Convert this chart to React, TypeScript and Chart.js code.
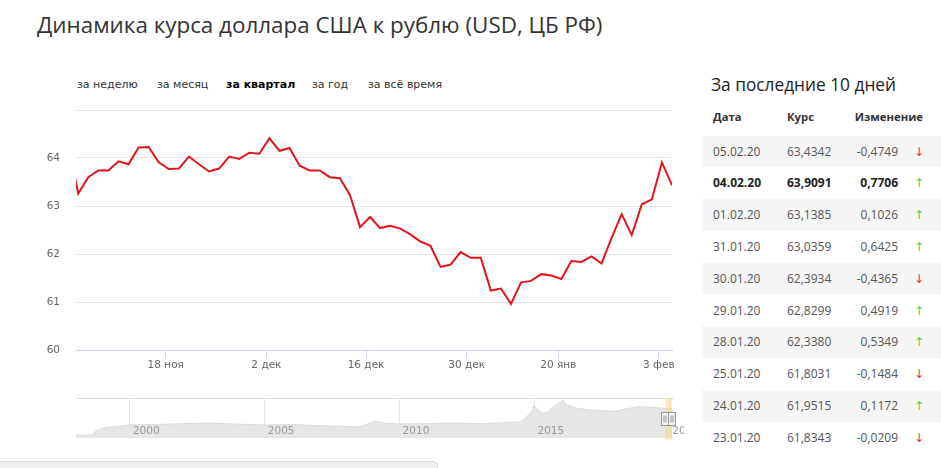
import React, { useEffect, useRef } from 'react';
import { Chart, registerables } from 'chart.js';

Chart.register(...registerables);

// ---- main chart data (USD/RUB, CBR, last quarter; index = trading day) ----
const rateValues = [
  64.3, 63.26, 63.6, 63.74, 63.74, 63.93, 63.87, 64.22, 64.23, 63.91,
  63.77, 63.78, 64.03, 63.87, 63.72, 63.78, 64.03, 63.98, 64.11, 64.09,
  64.41, 64.15, 64.21, 63.84, 63.74, 63.74, 63.6, 63.58, 63.23, 62.56,
  62.77, 62.54, 62.59, 62.53, 62.41, 62.26, 62.17, 61.73, 61.78, 62.04,
  61.92, 61.92, 61.24, 61.28, 60.96, 61.41, 61.44, 61.58, 61.55, 61.48,
  61.8552, 61.8343, 61.9515, 61.8031, 62.338, 62.8299, 62.3934, 63.0359, 63.1385, 63.9091,
  63.4342,
];
const xTickPositions = [9.7, 19.7, 29.6, 39.6, 48.7, 58.7];
const xTickLabels = ['18 ноя', '2 дек', '16 дек', '30 дек', '20 янв', '3 фев'];
const yTickValues = [60, 61, 62, 63, 64, 65];

// ---- navigator (whole history) ----
const navYears = [
  1998.0, 1998.6, 1998.75, 1999.0, 1999.5, 2000.0, 2001.0, 2002.0, 2003.0, 2004.0,
  2005.0, 2006.0, 2007.0, 2008.0, 2008.5, 2009.1, 2009.5, 2010.0, 2011.0, 2012.0,
  2013.0, 2014.0, 2014.5, 2014.9, 2014.96, 2015.05, 2015.3, 2015.5, 2015.7, 2016.05,
  2016.2, 2016.5, 2017.0, 2017.5, 2018.0, 2018.4, 2018.9, 2019.2, 2019.6, 2020.0, 2020.1,
];
const navValues = [
  6.0, 6.3, 16, 21, 24.5, 28, 28.7, 30.5, 31.8, 29.4,
  27.7, 28.8, 26.3, 24.5, 23.4, 36, 31, 30, 30.5, 32,
  30.4, 33, 34.5, 56, 68, 65, 52, 55, 66, 80,
  70, 64, 60, 58, 57, 62, 67, 66, 64, 62, 63.4,
];
const navYearTicks = [2000, 2005, 2010, 2015, 2020];
const navSelectedFrom = 2019.85;

// ---- table ----
const tableDates = ['05.02.20', '04.02.20', '01.02.20', '31.01.20', '30.01.20', '29.01.20', '28.01.20', '25.01.20', '24.01.20', '23.01.20'];
const tableRates = ['63,4342', '63,9091', '63,1385', '63,0359', '62,3934', '62,8299', '62,3380', '61,8031', '61,9515', '61,8343'];
const tableChanges = ['-0,4749', '0,7706', '0,1026', '0,6425', '-0,4365', '0,4919', '0,5349', '-0,1484', '0,1172', '-0,0209'];
const boldRow = 1;

const tabs = ['за неделю', 'за месяц', 'за квартал', 'за год', 'за всё время'];
const tabLefts = [77, 157, 226, 312, 368];
const activeTab = 2;

const AXIS_FONT = 'DejaVu Sans, Verdana, sans-serif';
const TEXT_FONT = '"Open Sans", "Noto Sans", sans-serif';

const navPlugin = {
  id: 'navExtras',
  afterDatasetsDraw(chart: any) {
    const { ctx, chartArea } = chart;
    const xs = chart.scales.x;
    ctx.save();
    // top border
    ctx.strokeStyle = '#dedede';
    ctx.lineWidth = 1;
    ctx.beginPath();
    ctx.moveTo(chartArea.left, Math.round(chartArea.top) + 0.5);
    ctx.lineTo(chartArea.right + 2, Math.round(chartArea.top) + 0.5);
    ctx.stroke();
    // year labels
    ctx.beginPath();
    ctx.rect(0, 0, chartArea.right + 12, chart.height);
    ctx.clip();
    ctx.fillStyle = '#999';
    ctx.font = '10.5px ' + AXIS_FONT;
    ctx.textBaseline = 'middle';
    ctx.textAlign = 'left';
    navYearTicks.forEach((yr) => {
      ctx.fillText(String(yr), xs.getPixelForValue(yr) + 3, chartArea.bottom - 7);
    });
    ctx.restore();
    // selected range band
    ctx.save();
    const x0 = xs.getPixelForValue(navSelectedFrom);
    const x1 = chartArea.right;
    ctx.fillStyle = 'rgba(245, 215, 110, 0.45)';
    ctx.fillRect(x0, chartArea.top, x1 - x0, chartArea.bottom - chartArea.top + 2);
    // handles
    const hy = chartArea.top + 14.5;
    [x0, x1].forEach((hx) => {
      const lx = Math.round(hx) - 3.5;
      ctx.fillStyle = '#f2f2f2';
      ctx.strokeStyle = '#999';
      ctx.lineWidth = 1;
      ctx.fillRect(lx, hy, 7, 13);
      ctx.strokeRect(lx, hy, 7, 13);
      ctx.beginPath();
      ctx.moveTo(lx + 2.5, hy + 3);
      ctx.lineTo(lx + 2.5, hy + 10);
      ctx.moveTo(lx + 4.5, hy + 3);
      ctx.lineTo(lx + 4.5, hy + 10);
      ctx.stroke();
    });
    ctx.restore();
  },
};

function MainChart() {
  const ref = useRef<HTMLCanvasElement>(null);
  useEffect(() => {
    if (!ref.current) return;
    const chart = new Chart(ref.current, {
      type: 'line',
      data: {
        datasets: [
          {
            data: rateValues.map((v, i) => ({ x: i, y: v })),
            borderColor: '#e3141b',
            borderWidth: 2,
            pointRadius: 0,
            tension: 0,
            fill: false,
          },
        ],
      },
      options: {
        animation: false,
        responsive: false,
        maintainAspectRatio: false,
        layout: { padding: { top: 10, right: 18, left: 0, bottom: 0 } },
        plugins: { legend: { display: false }, tooltip: { enabled: false } },
        scales: {
          x: {
            type: 'linear',
            min: 0.78,
            max: 60,
            afterBuildTicks: (s: any) => {
              s.ticks = xTickPositions.map((v) => ({ value: v }));
            },
            afterFit: (s: any) => {
              s.height = 30;
            },
            ticks: {
              callback: (_v: any, i: number) => xTickLabels[i],
              font: { family: AXIS_FONT, size: 10.5 },
              color: '#666',
              padding: 1,
              maxRotation: 0,
              autoSkip: false,
            },
            grid: { drawOnChartArea: false, drawTicks: true, tickLength: 8, color: '#ccd6eb' },
            border: { color: '#ccd6eb' },
          },
          y: {
            min: 60,
            max: 65,
            afterBuildTicks: (s: any) => {
              s.ticks = yTickValues.map((v) => ({ value: v }));
            },
            afterFit: (s: any) => {
              s.width = 76;
            },
            ticks: {
              callback: (v: any) => (v === 65 ? '' : String(v)),
              font: { family: AXIS_FONT, size: 10.5 },
              color: '#666',
              padding: 0,
            },
            grid: { color: '#e6e6e6', drawTicks: true, tickLength: 16, tickColor: 'rgba(0,0,0,0)' },
            border: { display: false },
          },
        },
      },
    } as any);
    return () => chart.destroy();
  }, []);
  return <canvas ref={ref} width={690} height={280} style={{ position: 'absolute', left: 0, top: 100, width: 690, height: 280 }} />;
}

function NavChart() {
  const ref = useRef<HTMLCanvasElement>(null);
  useEffect(() => {
    if (!ref.current) return;
    const chart = new Chart(ref.current, {
      type: 'line',
      data: {
        datasets: [
          {
            data: navYears.map((x, i) => ({ x, y: navValues[i] })),
            borderColor: '#dadada',
            borderWidth: 1,
            backgroundColor: '#e6e6e6',
            fill: 'origin',
            pointRadius: 0,
            tension: 0,
          },
        ],
      },
      options: {
        animation: false,
        responsive: false,
        maintainAspectRatio: false,
        layout: { padding: { top: 2, right: 18, left: 76, bottom: 4 } },
        plugins: { legend: { display: false }, tooltip: { enabled: false } },
        scales: {
          x: {
            type: 'linear',
            min: 1998,
            max: 2020.1,
            afterBuildTicks: (s: any) => {
              s.ticks = navYearTicks.map((v) => ({ value: v }));
            },
            afterFit: (s: any) => {
              s.height = 0;
            },
            ticks: { display: false },
            grid: { color: '#e6e6e6', drawTicks: false },
            border: { display: false },
          },
          y: { display: false, min: 0, max: 85 },
        },
      },
      plugins: [navPlugin],
    } as any);
    return () => chart.destroy();
  }, []);
  return <canvas ref={ref} width={690} height={46} style={{ position: 'absolute', left: 0, top: 396, width: 690, height: 46 }} />;
}

export default function App() {
  useEffect(() => {
    document.body.style.margin = '0';
  }, []);
  const rowTop = 135.5;
  const rowH = 31.8;
  return (
    <div style={{ position: 'absolute', left: 0, top: 0, width: 941, height: 468, overflow: 'hidden', background: '#fff' }}>
      <div style={{ position: 'absolute', left: 37, top: 10, fontFamily: TEXT_FONT, fontSize: 22.4, lineHeight: '30px', color: '#333', whiteSpace: 'nowrap' }}>
        Динамика курса доллара США к рублю (USD, ЦБ РФ)
      </div>
      {tabs.map((t, i) => (
        <div
          key={t}
          style={{
            position: 'absolute',
            left: tabLefts[i],
            top: 77,
            fontFamily: AXIS_FONT,
            fontSize: 11,
            lineHeight: '16px',
            color: i === activeTab ? '#000' : '#333',
            fontWeight: i === activeTab ? 'bold' : 'normal',
            whiteSpace: 'nowrap',
          }}
        >
          {t}
        </div>
      ))}
      <MainChart />
      <NavChart />
      <div style={{ position: 'absolute', left: -4, top: 461, width: 440, height: 12, background: '#f0f0f0', border: '1px solid #dcdcdc', borderRadius: 5 }} />

      <div style={{ position: 'absolute', left: 711, top: 72, fontFamily: TEXT_FONT, fontSize: 17.3, lineHeight: '26px', color: '#222', whiteSpace: 'nowrap' }}>
        За последние 10 дней
      </div>
      <div style={{ position: 'absolute', left: 713, top: 109, fontFamily: TEXT_FONT, fontSize: 11.3, fontWeight: 'bold', lineHeight: '16px', color: '#333' }}>Дата</div>
      <div style={{ position: 'absolute', left: 787, top: 109, fontFamily: TEXT_FONT, fontSize: 11.3, fontWeight: 'bold', lineHeight: '16px', color: '#333' }}>Курс</div>
      <div style={{ position: 'absolute', left: 800, width: 123, textAlign: 'right', top: 109, fontFamily: TEXT_FONT, fontSize: 11.3, fontWeight: 'bold', lineHeight: '16px', color: '#333' }}>Изменение</div>
      {tableDates.map((d, i) => {
        const neg = tableChanges[i].startsWith('-');
        const bold = i === boldRow;
        const common: any = {
          position: 'absolute',
          top: 0,
          height: rowH,
          lineHeight: rowH + 'px',
          fontFamily: TEXT_FONT,
          fontSize: 12,
          fontWeight: bold ? 'bold' : 'normal',
          color: bold ? '#222' : '#555',
          whiteSpace: 'nowrap',
        };
        return (
          <div
            key={d}
            style={{ position: 'absolute', left: 702, top: rowTop + i * rowH, width: 239, height: rowH, background: i % 2 === 0 ? '#f5f5f5' : '#fff' }}
          >
            <div style={{ ...common, left: 11 }}>{d}</div>
            <div style={{ ...common, left: 85 }}>{tableRates[i]}</div>
            <div style={{ ...common, left: 130, width: 66, textAlign: 'right' }}>{tableChanges[i]}</div>
            <div
              style={{
                ...common,
                left: 211,
                width: 12,
                textAlign: 'center',
                fontWeight: 'normal',
                fontFamily: '"Noto Sans", "DejaVu Sans", sans-serif',
                fontSize: 12,
                color: neg ? '#e8303a' : '#3ad83a',
              }}
            >
              {neg ? '↓' : '↑'}
            </div>
          </div>
        );
      })}
    </div>
  );
}
